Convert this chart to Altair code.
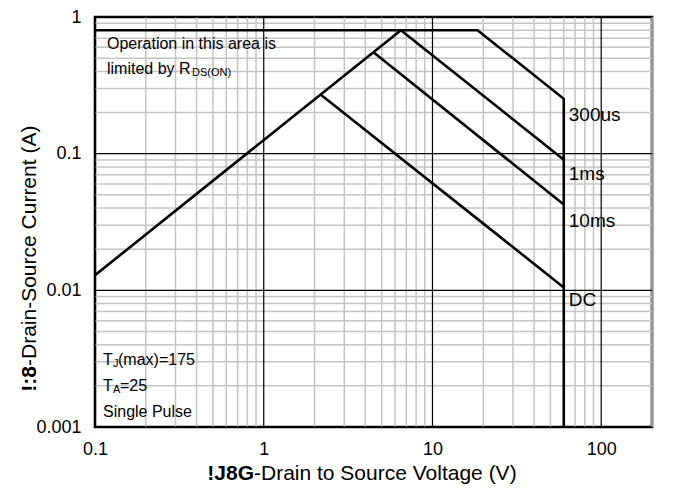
import altair as alt
import pandas as pd

# ---- data ----
rds_v = [0.1, 6.5]
rds_i = [0.0129, 0.8]
us300_v = [0.1, 18.5, 60, 60]
us300_i = [0.8, 0.8, 0.252, 0.001]
ms1_v = [6.5, 60]
ms1_i = [0.8, 0.0904]
ms10_v = [4.45, 60]
ms10_i = [0.555, 0.0424]
dc_v = [2.18, 60]
dc_i = [0.27, 0.0105]

label_text = ["300us", "1ms", "10ms", "DC"]
label_v = [60, 60, 60, 60]
label_i = [0.192, 0.0714, 0.0319, 0.0085]

x_major = [0.1, 1, 10, 100]
y_major = [0.001, 0.01, 0.1, 1]
x_minor = [0.2, 0.3, 0.4, 0.5, 0.6, 0.7, 0.8, 0.9,
           2, 3, 4, 5, 6, 7, 8, 9,
           20, 30, 40, 50, 60, 70, 80, 90, 200]
y_minor = [0.002, 0.003, 0.004, 0.005, 0.006, 0.007, 0.008, 0.009,
           0.02, 0.03, 0.04, 0.05, 0.06, 0.07, 0.08, 0.09,
           0.2, 0.3, 0.4, 0.5, 0.6, 0.7, 0.8, 0.9]

W, H = 557, 410
FONT = "Liberation Sans"

rows = []
for name, vs, iss in [("rds", rds_v, rds_i), ("300us", us300_v, us300_i),
                      ("1ms", ms1_v, ms1_i), ("10ms", ms10_v, ms10_i),
                      ("dc", dc_v, dc_i)]:
    for k, (v, i) in enumerate(zip(vs, iss)):
        rows.append({"series": name, "v": v, "i": i, "o": k})
lines_df = pd.DataFrame(rows)

xs = alt.Scale(type="log", domain=[0.1, 200], nice=False)
ys = alt.Scale(type="log", domain=[0.001, 1], nice=False)

xaxis = alt.Axis(values=x_major, format="~g", grid=False, ticks=False, domain=False,
                 labelFont=FONT, labelFontSize=18, labelColor="#000", labelPadding=13,
                 title=None, labelFlush=False)
yaxis = alt.Axis(values=y_major, format="~g", grid=False, ticks=False, domain=False,
                 labelFont=FONT, labelFontSize=18, labelColor="#000", labelPadding=14,
                 title=None, labelFlush=False)

minor_x = alt.Chart(pd.DataFrame({"v": x_minor})).mark_rule(
    color="#c4c4c4", strokeWidth=1.5).encode(x=alt.X("v:Q", scale=xs, axis=xaxis))
minor_y = alt.Chart(pd.DataFrame({"i": y_minor})).mark_rule(
    color="#c4c4c4", strokeWidth=1.5).encode(y=alt.Y("i:Q", scale=ys, axis=yaxis))
major_x = alt.Chart(pd.DataFrame({"v": x_major})).mark_rule(
    color="#000", strokeWidth=1.2).encode(x=alt.X("v:Q", scale=xs))
major_y = alt.Chart(pd.DataFrame({"i": y_major})).mark_rule(
    color="#000", strokeWidth=1.2).encode(y=alt.Y("i:Q", scale=ys))

lines = alt.Chart(lines_df).mark_line(color="#000", strokeWidth=2.6, clip=True).encode(
    x=alt.X("v:Q", scale=xs), y=alt.Y("i:Q", scale=ys),
    detail="series:N", order="o:Q")

labels = alt.Chart(pd.DataFrame({"t": label_text, "v": label_v, "i": label_i})).mark_text(
    align="left", baseline="middle", dx=5, font=FONT, fontSize=19, color="#000").encode(
    x=alt.X("v:Q", scale=xs), y=alt.Y("i:Q", scale=ys), text="t:N")


def txt(s, px, py, size=16, weight="normal", align="left", angle=0, baseline="middle"):
    kw = dict(align=align, baseline=baseline, font=FONT, fontSize=size,
              fontWeight=weight, color="#000")
    if angle:
        kw["angle"] = angle
    return alt.Chart(pd.DataFrame({"t": [s]})).mark_text(**kw).encode(
        x=alt.value(px - 95), y=alt.value(py - 17), text="t:N")


annots = [
    txt("Operation in this area is", 107, 44),
    txt("limited by R", 107, 69),
    txt("DS(ON)", 192, 73, size=11),
    txt("T", 103, 360),
    txt("J", 113, 364, size=11),
    txt("(max)=175", 118, 360),
    txt("T", 103, 386),
    txt("A", 113, 390, size=11),
    txt("=25", 120, 386),
    txt("Single Pulse", 103, 412),
    # x axis title
    txt("!J8G", 254, 474, size=21, weight="bold", align="right"),
    txt("-Drain to Source Voltage (V)", 254, 474, size=21),
    # y axis title
    txt("!:8", 30, 366, size=21, weight="bold", align="right", angle=270),
    txt("-Drain-Source Current (A)", 30, 366, size=21, angle=270),
]

chart = alt.layer(minor_x, minor_y, major_x, major_y, lines, labels, *annots).properties(
    width=W, height=H,
    padding={"left": 87, "top": 9, "right": 30, "bottom": 62},
    autosize=alt.AutoSizeParams(type="none"),
    background="white",
).configure_view(stroke="#000", strokeWidth=2.6)

chart.save("out.html", embed_options={"renderer": "svg", "actions": False})
